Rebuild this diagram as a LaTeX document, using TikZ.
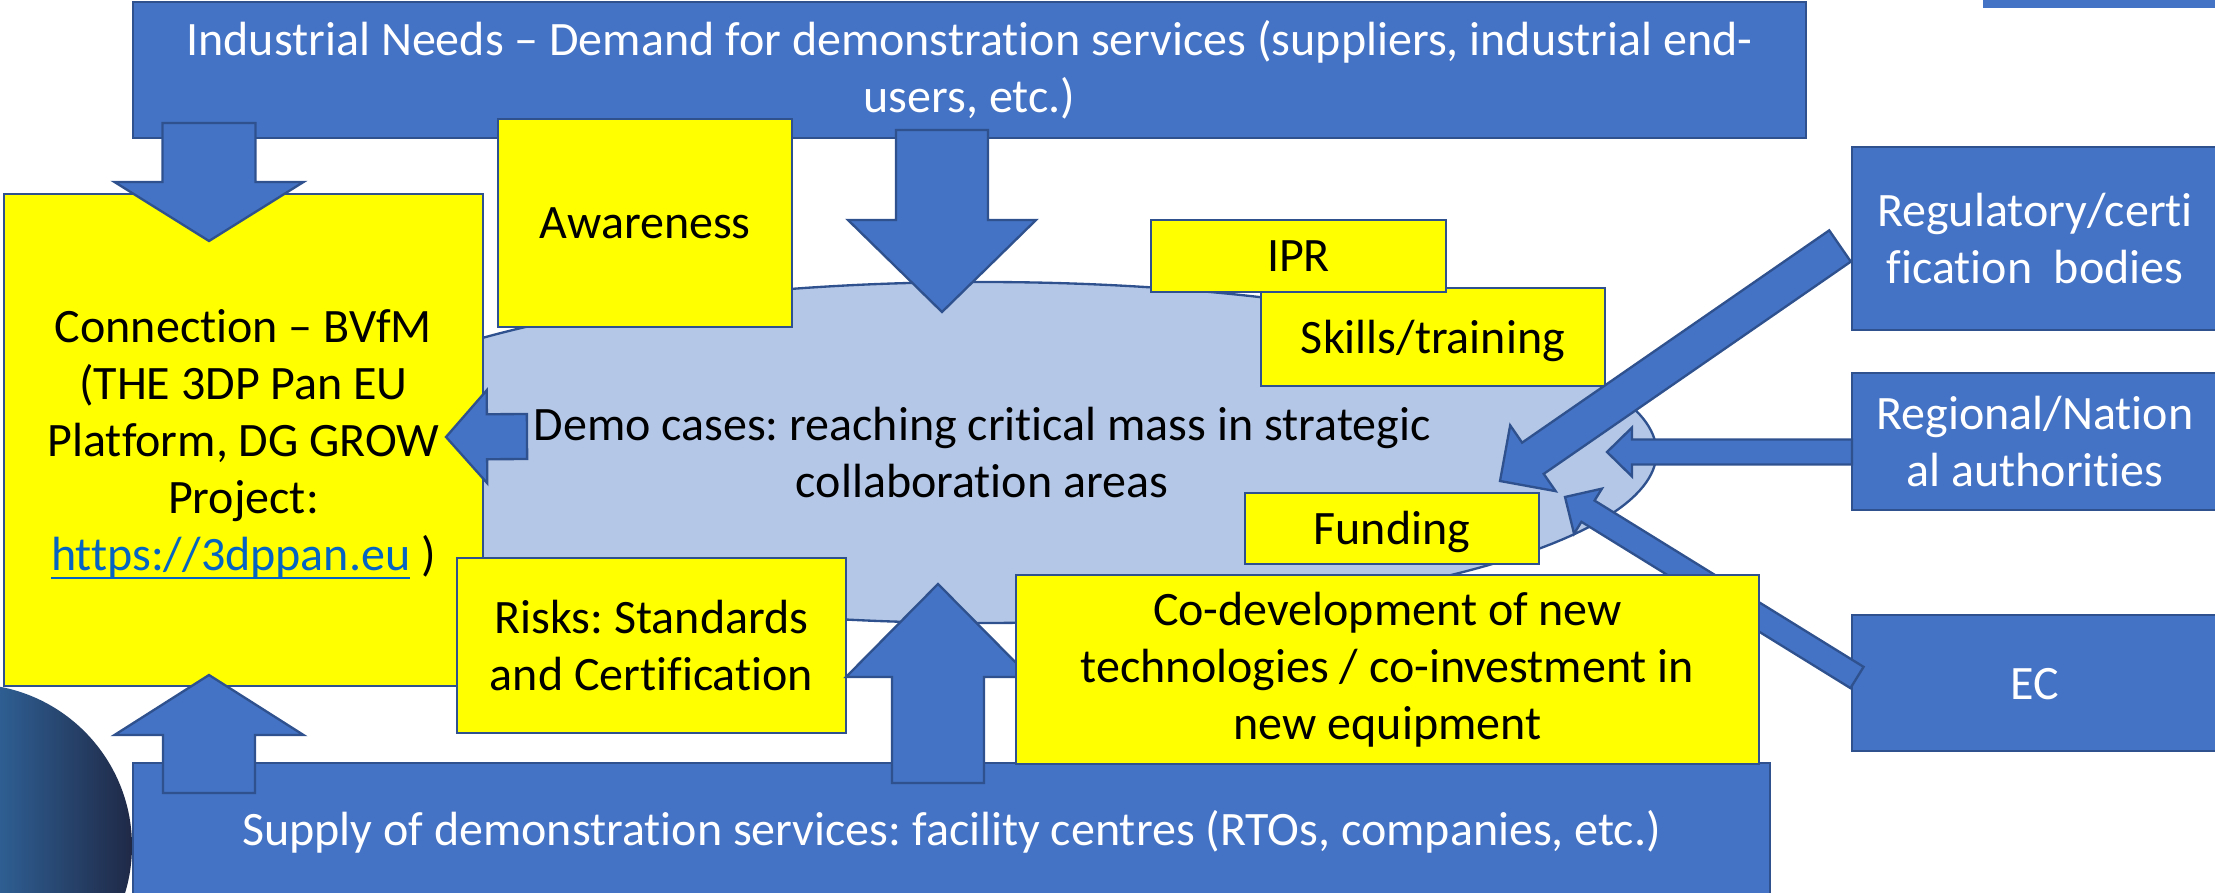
\documentclass[tikz,border=0pt]{standalone}
\usepackage{fontspec}
\setmainfont{Carlito}[Ligatures=NoCommon]
\usetikzlibrary{calc,shapes.geometric}
\frenchspacing
\definecolor{pblue}{HTML}{4472C4}
\definecolor{pborder}{HTML}{2F528F}
\definecolor{pyellow}{HTML}{FFFF00}
\definecolor{pell}{HTML}{B4C7E7}
\definecolor{plink}{HTML}{0563C1}
\definecolor{cirA}{HTML}{2E5E92}
\definecolor{cirB}{HTML}{1F2845}
\tikzset{
  bluebox/.style={draw=pborder, fill=pblue, text=white, line width=0.7pt, inner sep=0pt, outer sep=0pt, align=center, font=\fontsize{14.4}{17.1}\selectfont},
  yellowbox/.style={bluebox, fill=pyellow, text=black},
  oneline/.style={text height=9.6pt, text depth=0pt},
  ellbox/.style={ellipse, draw=pborder, fill=pell, text=black, line width=0.7pt, inner sep=0pt, align=center, font=\fontsize{14.4}{17.1}\selectfont},
  blockarrow/.style={draw=pborder, fill=pblue, line width=0.7pt, line join=miter},
}
\newcommand\linkul[1]{\setbox0=\hbox{#1}\rlap{\rule[-2.4pt]{\wd0}{0.5pt}}\box0}
\newcommand\pbox[7]{\node[#2, minimum width={(#5-#3)*0.3pt}, minimum height={(#6-#4)*0.3pt}] (#1) at ({(#3+#5)/2},{(#4+#6)/2}) {#7};}
% #1 tail, #2 tip, #3 shaft half width, #4 head half width, #5 head length (px)
\newcommand\barrow[5]{%
  \coordinate (#1hb) at ($(#2)!#5*0.3pt!(#1)$);
  \filldraw[blockarrow] ($(#1)!#3*0.3pt!90:(#2)$) -- ($(#1hb)!#3*0.3pt!-90:(#1)$) -- ($(#1hb)!#4*0.3pt!-90:(#1)$) -- (#2) -- ($(#1hb)!#4*0.3pt!90:(#1)$) -- ($(#1hb)!#3*0.3pt!90:(#1)$) -- ($(#1)!#3*0.3pt!-90:(#2)$) -- cycle;}
\begin{document}
\begin{tikzpicture}[x=0.3pt,y=-0.3pt]
\path[use as bounding box] (0,0) rectangle (2215,893);
% dark circle, bottom left
\begin{scope}
  \clip (-30,846) circle[radius=162];
  \shade[left color=cirA, right color=cirB] (0,680) rectangle (135,893);
\end{scope}
% bar at top right
\fill[pblue] (1983,0) rectangle (2215,8);
% central ellipse
\node[ellbox, minimum width={1349*0.3pt}, minimum height={341*0.3pt}] (demo) at (982,452.5) {Demo cases: reaching critical mass in strategic\\collaboration areas};
% main boxes
\pbox{need}{bluebox}{133}{2}{1806}{138}{Industrial Needs – Demand for demonstration services (suppliers, industrial end-\\users, etc.)}
\pbox{supply}{bluebox,oneline}{133}{763}{1770}{896}{Supply of demonstration services: facility centres (RTOs, companies, etc.)}
\pbox{conn}{yellowbox}{4}{194}{483}{686}{Connection – BVfM\\(THE 3DP Pan EU\\Platform, DG GROW\\Project:\\\raisebox{0pt}[\height][0pt]{\textcolor{plink}{\linkul{https://3dppan.eu}} )}}
\pbox{aware}{yellowbox,oneline}{498}{119}{792}{327}{Awareness}
\pbox{skills}{yellowbox,oneline}{1261}{288}{1605}{386}{Skills/training}
\pbox{ipr}{yellowbox,oneline}{1151}{220}{1446}{292}{IPR}
\pbox{funding}{yellowbox,oneline}{1245}{493}{1539}{564}{Funding}
\pbox{risks}{yellowbox}{457}{558}{846}{733}{Risks: Standards\\and Certification}
\pbox{reg}{bluebox}{1852}{147}{2218}{330}{Regulatory/certi\\fication~~bodies}
\pbox{nat}{bluebox}{1852}{373}{2218}{510}{Regional/Nation\\al authorities}
\pbox{ec}{bluebox,oneline}{1852}{615}{2218}{751}{EC}
% arrow end points
\coordinate (a1t) at (209,123);   \coordinate (a1h) at (209,241);
\coordinate (a2t) at (942,130);   \coordinate (a2h) at (942,312);
\coordinate (a3t) at (209,793);   \coordinate (a3h) at (209,675);
\coordinate (a4t) at (938,783);   \coordinate (a4h) at (938,584);
\coordinate (a5t) at (527,436.5); \coordinate (a5h) at (446,437);
\coordinate (a6t) at (1840,246);  \coordinate (a6h) at (1500,481);
\coordinate (a7t) at (1852,452);  \coordinate (a7h) at (1607,452);
\coordinate (a8t) at (1857,677.5);\coordinate (a8h) at (1565,497);
\barrow{a1t}{a1h}{46.5}{94.5}{59}
\barrow{a2t}{a2h}{46}{94}{92}
\barrow{a3t}{a3h}{46}{94.5}{60}
\barrow{a4t}{a4h}{46}{92}{93}
\barrow{a5t}{a5h}{22.5}{46.5}{41}
\barrow{a6t}{a6h}{19}{40}{40}
\barrow{a7t}{a7h}{12.5}{24.5}{25}
\barrow{a8t}{a8h}{12.5}{26.5}{27}
% box above the EC arrow
\pbox{codev}{yellowbox}{1016}{575}{1759}{764}{Co-development of new\\technologies / co-investment in\\new equipment}
\end{tikzpicture}
\end{document}
